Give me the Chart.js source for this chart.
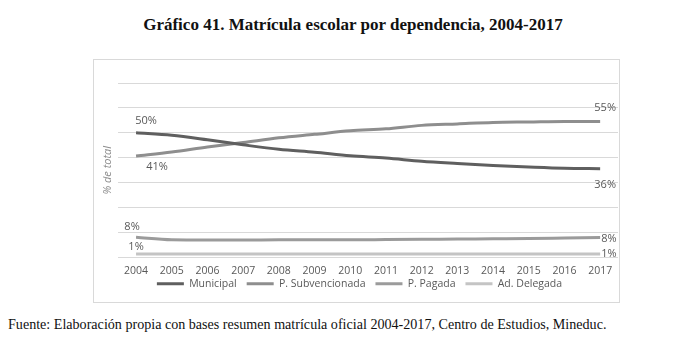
<!DOCTYPE html>
<html>
<head>
<meta charset="utf-8">
<script src="https://cdn.jsdelivr.net/npm/chart.js@4.4.1/dist/chart.umd.min.js"></script>
<style>
body{margin:0;background:#fff;width:698px;height:344px;position:relative;overflow:hidden;}
#titulo{position:absolute;left:0;top:15px;width:706px;text-align:center;font-family:"Liberation Serif","Times New Roman",serif;font-weight:bold;font-size:17px;color:#111;}
#marco{position:absolute;left:93px;top:59px;width:525px;height:242px;border:1px solid #d9d9d9;}
#fuente{position:absolute;left:8px;top:316px;font-family:"Liberation Serif","Times New Roman",serif;font-size:14.1px;color:#111;white-space:nowrap;}
</style>
</head>
<body>
<div id="titulo">Gráfico 41. Matrícula escolar por dependencia, 2004-2017</div>
<div id="marco"><canvas id="grafico" width="525" height="242"></canvas></div>
<div id="fuente">Fuente: Elaboración propia con bases resumen matrícula oficial 2004-2017, Centro de Estudios, Mineduc.</div>
<script>
// datos (% del total)
var anios=['2004','2005','2006','2007','2008','2009','2010','2011','2012','2013','2014','2015','2016','2017'];
var municipal=[50,49,47.2,45.2,43.4,42.2,40.8,39.9,38.6,37.7,36.9,36.3,35.8,35.6];
var subvencionada=[40.7,42.3,44.3,46.1,48,49.4,50.8,51.6,53,53.6,54.2,54.4,54.6,54.6];
var pagada=[8.1,7.1,7,7,7.1,7.1,7.1,7.2,7.3,7.4,7.5,7.6,7.8,8];
var delegada=[1.4,1.4,1.4,1.4,1.4,1.4,1.4,1.4,1.4,1.4,1.4,1.4,1.4,1.4];

var gris='#595959';

// etiquetas de porcentaje al inicio y al final de cada linea
// [dataset, indice, dx, dy, alineacion]
var etiquetas=[
    [0,0,10,-12,'center'],
    [1,0,21,11,'center'],
    [2,0,-4,-10,'center'],
    [3,0,0,-7,'center'],
    [0,13,5,16,'center'],
    [1,13,5,-14,'center'],
    [2,13,1,1,'left'],
    [3,13,1,0,'left']
];
var pluginEtiquetas={
    id:'etiquetas',
    afterDatasetsDraw:function(chart){
        var ctx=chart.ctx;
        ctx.save();
        ctx.font='11px "Open Sans"';
        ctx.fillStyle=gris;
        ctx.textBaseline='middle';
        etiquetas.forEach(function(e){
            var punto=chart.getDatasetMeta(e[0]).data[e[1]];
            var valor=chart.data.datasets[e[0]].data[e[1]];
            ctx.textAlign=e[4];
            ctx.fillText(Math.round(valor)+'%',punto.x+e[2],punto.y+e[3]);
        });
        ctx.restore();
    }
};

function serie(nombre,datos,color){
    return {
        label:nombre,
        data:datos,
        borderColor:color,
        backgroundColor:color,
        borderWidth:3,
        pointRadius:0,
        pointStyle:'line',
        fill:false,
        cubicInterpolationMode:'monotone'
    };
}

var grafico=new Chart(document.getElementById('grafico'),{
    type:'line',
    data:{
        labels:anios,
        datasets:[
            serie('Municipal',municipal,'#5f5f5f'),
            serie('P. Subvencionada',subvencionada,'#8e8e8e'),
            serie('P. Pagada',pagada,'#9b9b9b'),
            serie('Ad. Delegada',delegada,'#c4c4c4')
        ]
    },
    options:{
        responsive:false,
        animation:false,
        layout:{padding:{left:7,right:1,top:23,bottom:3}},
        plugins:{
            tooltip:{enabled:false},
            legend:{
                position:'bottom',
                labels:{
                    usePointStyle:true,
                    pointStyleWidth:27,
                    boxHeight:11,
                    padding:10,
                    color:gris,
                    font:{family:'"Open Sans"',size:10.5}
                }
            }
        },
        scales:{
            x:{
                offset:true,
                grid:{display:false},
                border:{display:false},
                // mirror evita que los años se recorten al achicar el eje (con mirror el padding va al reves)
                ticks:{color:gris,font:{family:'"Open Sans"',size:10.5},padding:-19.6,mirror:true,maxRotation:0,autoSkip:false},
                // la leyenda va pegada a los años, como en el original
                afterFit:function(eje){ eje.height=11; }
            },
            y:{
                min:0,
                max:70,
                grid:{color:'#d9d9d9',drawTicks:false},
                border:{display:false},
                ticks:{display:false,stepSize:10},
                title:{display:true,text:'% de total',color:'#8c8c8c',padding:{top:0,bottom:4},font:{family:'"Open Sans"',size:11,style:'italic'}}
            }
        }
    },
    plugins:[pluginEtiquetas]
});
</script>
</body>
</html>
